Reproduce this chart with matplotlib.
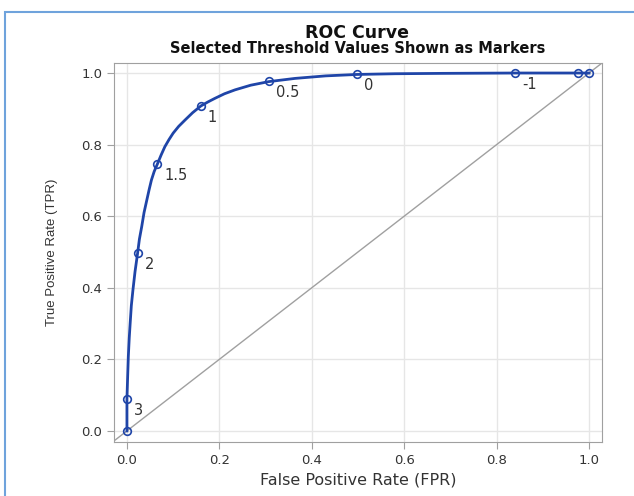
import matplotlib.pyplot as plt
from matplotlib.patches import Rectangle

plt.rcParams['font.family'] = ['DejaVu Sans']

# ROC curve
curve_fpr = [0.0, 0.0, 0.0015, 0.003, 0.005, 0.007, 0.0095, 0.013, 0.0175, 0.023,
             0.027, 0.032, 0.037, 0.043, 0.048, 0.053, 0.059, 0.066, 0.074, 0.082,
             0.091, 0.100, 0.112, 0.126, 0.142, 0.160, 0.175, 0.190, 0.211, 0.234,
             0.268, 0.307, 0.364, 0.430, 0.498, 0.580, 0.680, 0.760, 0.840, 0.920,
             0.976, 1.0]
curve_tpr = [0.0, 0.089, 0.150, 0.208, 0.260, 0.301, 0.350, 0.394, 0.445, 0.496,
             0.536, 0.571, 0.610, 0.645, 0.674, 0.701, 0.725, 0.746, 0.771, 0.794,
             0.814, 0.832, 0.851, 0.869, 0.889, 0.908, 0.919, 0.929, 0.942, 0.953,
             0.966, 0.976, 0.985, 0.992, 0.996, 0.998, 0.999, 0.9995, 1.0, 1.0,
             1.0, 1.0]

# threshold markers
mark_fpr = [0.0, 0.0, 0.023, 0.066, 0.160, 0.307, 0.498, 0.840, 0.976, 1.0]
mark_tpr = [0.0, 0.089, 0.497, 0.746, 0.909, 0.977, 0.997, 1.0, 1.0, 1.0]
mark_labels = ['', '3', '2', '1.5', '1', '0.5', '0', '-1', '', '']

blue = '#1f45a8'
grey = '#a0a0a0'
text_col = '#333333'

fig = plt.figure(figsize=(6.34, 4.96), dpi=100)

# light blue frame (cut at right and bottom like the screenshot)
fig.patches.append(Rectangle((5 / 634, -0.1), 1.2, 1.1 - 12 / 496,
                             transform=fig.transFigure, fill=False,
                             edgecolor='#6fa3dc', linewidth=1.5))

ax = fig.add_axes([114 / 634, 1 - 442 / 496, 488 / 634, 379 / 496])

ax.plot([-0.03, 1.03], [-0.03, 1.03], color=grey, linewidth=1, zorder=2)
ax.plot(curve_fpr, curve_tpr, color=blue, linewidth=2, zorder=3)
ax.plot(mark_fpr, mark_tpr, linestyle='none', marker='o', markersize=5.5,
        markerfacecolor='none', markeredgecolor=blue, markeredgewidth=1.2, zorder=4)

for xv, yv, lab in zip(mark_fpr, mark_tpr, mark_labels):
    if lab:
        ax.annotate(lab, (xv, yv), xytext=(5, -3), textcoords='offset points',
                    ha='left', va='top', fontsize=10.5, color=text_col)

ax.set_xlim(-0.028, 1.028)
ax.set_ylim(-0.031, 1.028)
ax.set_xticks([0, 0.2, 0.4, 0.6, 0.8, 1.0])
ax.set_yticks([0, 0.2, 0.4, 0.6, 0.8, 1.0])
ax.set_xticklabels(['0.0', '0.2', '0.4', '0.6', '0.8', '1.0'])
ax.set_yticklabels(['0.0', '0.2', '0.4', '0.6', '0.8', '1.0'])
ax.grid(True, color='#e6e6e6', linewidth=1)
ax.set_axisbelow(True)
for s in ax.spines.values():
    s.set_color(grey)
ax.tick_params(colors=grey, labelcolor=text_col, labelsize=9.5, length=5)

ax.set_xlabel('False Positive Rate (FPR)', fontsize=11.5, color=text_col, labelpad=4)
ax.set_ylabel('True Positive Rate (TPR)', fontsize=9.5, color=text_col, labelpad=17,
              family=['Liberation Sans'])

fig.text(357 / 634, 1 - 33 / 496, 'ROC Curve', ha='center', va='center',
         fontsize=12.5, fontweight='bold', color='#111111')
fig.text(358 / 634, 1 - 48.5 / 496, 'Selected Threshold Values Shown as Markers',
         ha='center', va='center', fontsize=10.5, fontweight='bold', color='#111111')

plt.savefig('out.png', dpi=100)
